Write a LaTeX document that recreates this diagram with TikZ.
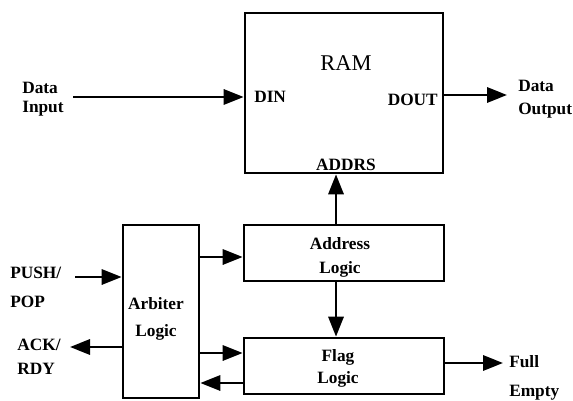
\documentclass[tikz,border=0pt]{standalone}
\usepackage{fontspec}
\setmainfont{Liberation Serif}
\usetikzlibrary{arrows.meta}
\begin{document}
\begin{tikzpicture}[
    box/.style={draw, rectangle, line width=1.9pt, minimum width=5cm, minimum height=1.4cm},
    arrow/.style={-{Triangle[length=0.5cm,width=0.38cm]}, line width=1.9pt},
    lbl/.style={font=\fontsize{12.3}{13.5}\selectfont\bfseries, inner sep=0pt, align=left, anchor=west}
]
\useasboundingbox (0,0) rectangle (14.325,-10.025);

% RAM
\node[box, minimum width=4.95cm, minimum height=4cm] (ram) at (8.6,-2.325) {};
\node[font=\fontsize{16}{18}\selectfont, inner sep=0pt] (ramlbl) at (8.65,-1.575) {RAM};
\node[lbl] (din) at (6.35,-2.425) {DIN};
\node[lbl, anchor=east] (dout) at (10.95,-2.5) {DOUT};
\node[lbl, anchor=center] (addrs) at (8.65,-4.11) {ADDRS};

% Logic blocks
\node[box, minimum width=1.9cm, minimum height=4.325cm] (arb) at (4.025,-7.7875) {};
\node[box] (addr) at (8.6,-6.325) {};
\node[box] (flag) at (8.6,-9.15) {};
\node[lbl, anchor=center, align=center] (arbtxt) at (3.9,-7.975) {Arbiter\\[6pt]Logic};
\node[lbl, anchor=center, align=center] (addrtxt) at (8.5,-6.44) {Address\\[4pt]Logic};
\node[lbl, anchor=center, align=center] (flagtxt) at (8.45,-9.22) {Flag\\[2pt]Logic};

% Outside signals
\node[lbl] (datain) at (0.55,-2.475) {Data\\Input};
\node[lbl] (dataout) at (12.95,-2.475) {Data\\[2.8pt]Output};
\node[lbl] (pushpop) at (0.25,-7.19) {PUSH/\\[7pt]POP};
\node[lbl] (ackrdy) at (0.43,-8.925) {ACK/\\[3.5pt]RDY};
\node[lbl] (fullempty) at (12.725,-9.44) {Full\\[7pt]Empty};

% Arrow ends
\coordinate (in) at (1.825,-2.425);
\coordinate (out) at (12.675,-2.375);
\coordinate (push) at (1.875,-6.925);
\coordinate (ack) at (1.75,-8.675);
\coordinate (full) at (12.575,-9.075);
\coordinate (bus) at (8.4,0);

% Arrows
\draw[arrow] (in) -- (in -| ram.west);
\draw[arrow] (out -| ram.east) -- (out);
\draw[arrow] (bus |- addr.north) -- (bus |- ram.south);
\draw[arrow] (bus |- addr.south) -- (bus |- flag.north);
\draw[arrow] (push) -- (push -| arb.west);
\draw[arrow] (ack -| arb.west) -- (ack);
\draw[arrow] (arb.east |- 0,-6.425) -- (addr.west |- 0,-6.425);
\draw[arrow] (arb.east |- 0,-8.825) -- (flag.west |- 0,-8.825);
\draw[arrow] (flag.west |- 0,-9.575) -- (arb.east |- 0,-9.575);
\draw[arrow] (full -| flag.east) -- (full);

\end{tikzpicture}
\end{document}
